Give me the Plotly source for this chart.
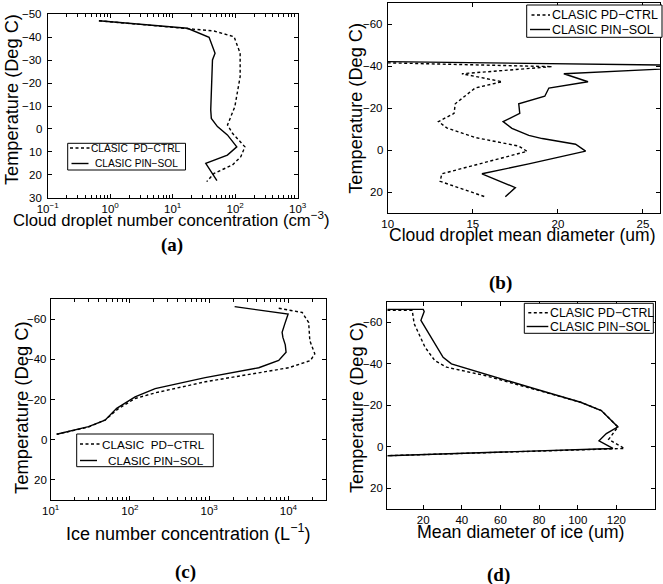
import plotly.graph_objects as go

W, H = 663, 584

# ---------------- data ----------------
# (a) cloud droplet number concentration (cm^-3) vs temperature (deg C)
a_ctrl_x = [0.66, 17.2, 46, 96, 120, 120, 98.6, 75.3, 90.5, 143, 123, 90.5, 46, 35]
a_ctrl_t = [-47.2, -43.9, -42.7, -40.2, -33, -22.8, -9.7, -1.7, 1.9, 7.8, 12.1, 15.7, 19.4, 23]
a_sol_x = [0.66, 17.2, 38.2, 47.6, 43.3, 40.6, 41.5, 52, 75, 106, 75, 33.8, 51]
a_sol_t = [-47.2, -43.9, -40.0, -33.0, -30.1, -8.3, -4.6, -1.0, 2.6, 7.8, 11.4, 15.0, 22.6]

# (b) cloud droplet mean diameter (um)
b_ctrl_x = [10, 19.66, 14.36, 16.72, 15.14, 13.97, 13.9, 12.98, 13.47, 15.14, 17.7, 18.19, 13.18, 13.08, 15.73]
b_ctrl_t = [-41.6, -39.8, -36.4, -32.6, -29.6, -22.1, -17.5, -13.6, -10.6, -6.0, -1.9, 0.6, 11.3, 14.9, 22.3]
b_sol_x = [10, 30, 20.35, 21.77, 19.47, 19.23, 17.7, 17.76, 16.78, 17.3, 18.29, 19.08, 21.04, 21.63, 18.29, 15.54, 17.5, 16.91]
b_sol_t = [-42.2, -40.15, -36.4, -32.6, -29.6, -25.7, -22.1, -17.5, -13.6, -10.4, -7.0, -5.5, -2.8, 0.5, 6.6, 11.3, 17.9, 22.3]

# (c) ice number concentration (L^-1)
c_ctrl_x = [7540, 14900, 18000, 18600, 21500, 18970, 10090, 891, 208, 116, 70, 49, 30, 11.9]
c_ctrl_t = [-65.4, -63.3, -58.3, -49.3, -42.7, -39.4, -35.8, -28.8, -23.3, -20.5, -15.2, -9.9, -6.3, -2.7]
c_sol_x = [2094, 9900, 8970, 8320, 8510, 9120, 9330, 7530, 4220, 890, 208, 116, 68, 48.5, 30, 11.9]
c_sol_t = [-66.2, -62.5, -57.5, -53.4, -50.9, -47.2, -43.5, -39.4, -35.8, -30.9, -25.4, -21.3, -15.6, -9.7, -6.5, -2.7]

# (d) mean diameter of ice (um)
d_ctrl_x = [1.4, 14.3, 15.3, 20.9, 26, 32.1, 51.9, 74.3, 101.5, 112.2, 120.8, 116, 124.2, 1.4]
d_ctrl_t = [-65.8, -65.8, -59.4, -48.1, -41.6, -38.4, -34.4, -28.7, -21.5, -17.5, -9.6, -3.6, 0.8, 4.3]
d_sol_x = [1.4, 20, 20.5, 18.8, 30.3, 34.6, 77.7, 101.5, 112.2, 120.8, 114.8, 111, 118.2, 1.4]
d_sol_t = [-66.3, -66.3, -65.3, -61, -43.2, -40, -28, -21.5, -17.5, -9.6, -6.4, -2.9, 0.8, 4.3]

# tick values / labels
a_yticks = [-50, -40, -30, -20, -10, 0, 10, 20, 30]
bcd_yticks = [-60, -40, -20, 0, 20]
a_xticks = [0.1, 1, 10, 100, 1000]
a_xlabels = ["10<sup>\u22121</sup>", "10<sup>0</sup>", "10<sup>1</sup>", "10<sup>2</sup>", "10<sup>3</sup>"]
c_xticks = [10, 100, 1000, 10000]
c_xlabels = ["10<sup>1</sup>", "10<sup>2</sup>", "10<sup>3</sup>", "10<sup>4</sup>"]
b_xticks = [10, 15, 20, 25]
d_xticks = [20, 40, 60, 80, 100, 120, 140]
a_minor = [m * 10.0 ** e for e in range(-1, 3) for m in range(2, 10)]
c_minor = [m * 10.0 ** e for e in range(1, 5) for m in range(2, 10)]

name_ctrl_ac = "CLASIC\u00a0\u00a0PD\u2212CTRL"
name_ctrl_bd = "CLASIC PD\u2212CTRL"
name_sol = "CLASIC PIN\u2212SOL"


def lab(v):
    return str(v).replace("-", "\u2212")


FONT = "Liberation Sans, Arial, Helvetica, sans-serif"
SERIF = "Liberation Serif, Times New Roman, serif"
TICKSIZE = 11.5

fig = go.Figure()

panels = [
    ("x", "y", a_ctrl_x, a_ctrl_t, a_sol_x, a_sol_t, name_ctrl_ac),
    ("x2", "y2", b_ctrl_x, b_ctrl_t, b_sol_x, b_sol_t, name_ctrl_bd),
    ("x3", "y3", c_ctrl_x, c_ctrl_t, c_sol_x, c_sol_t, name_ctrl_ac),
    ("x4", "y4", d_ctrl_x, d_ctrl_t, d_sol_x, d_sol_t, name_ctrl_bd),
]
DASH = "3px,2.5px"
for xa, ya, cx, ct, sx, st, nc in panels:
    fig.add_trace(go.Scatter(x=cx, y=ct, mode="lines", name=nc, xaxis=xa, yaxis=ya,
                             showlegend=False, line=dict(color="black", width=1.4, dash=DASH)))
    fig.add_trace(go.Scatter(x=sx, y=st, mode="lines", name=name_sol, xaxis=xa, yaxis=ya,
                             showlegend=False, line=dict(color="black", width=1.4)))


def px_dom_x(l, r):
    return [l / W, r / W]


def px_dom_y(top, bot):
    return [1 - bot / H, 1 - top / H]


common = dict(showline=True, linecolor="black", linewidth=1.3, mirror="ticks",
              ticks="inside", ticklen=4, tickcolor="black", tickwidth=1, automargin=False,
              showgrid=False, zeroline=False,
              tickfont=dict(family=FONT, size=TICKSIZE, color="black"))


def logminor(vals):
    return dict(ticks="inside", ticklen=3, tickcolor="black", tickwidth=1, showgrid=False, tickvals=vals)


# frame left edges (px) of the four panels and where their y tick labels end
LEFTS = {"y": 47.7, "y2": 387.7, "y3": 50.7, "y4": 387.3}
LABEL_RIGHT = {"y": 43.5, "y2": 385.0, "y3": 49.0, "y4": 385.0}

fig.update_layout(
    template="none",
    width=W, height=H, margin=dict(l=0, r=0, t=0, b=0, pad=0, autoexpand=False),
    paper_bgcolor="white", plot_bgcolor="white",
    font=dict(family=FONT, color="black"), showlegend=False,
    xaxis=dict(domain=px_dom_x(LEFTS["y"], 297.7), anchor="y", type="log", range=[-1, 3],
               tickvals=a_xticks, ticktext=a_xlabels, minor=logminor(a_minor), **common),
    yaxis=dict(domain=px_dom_y(14.3, 197.7), anchor="x", range=[30, -50],
               tickvals=a_yticks, showticklabels=False, **common),
    xaxis2=dict(domain=px_dom_x(LEFTS["y2"], 660), anchor="y2", range=[10, 26],
                tickvals=b_xticks, ticktext=[lab(v) for v in b_xticks], **common),
    yaxis2=dict(domain=px_dom_y(3.3, 213), anchor="x2", range=[30, -70],
                tickvals=bcd_yticks, showticklabels=False, **common),
    xaxis3=dict(domain=px_dom_x(LEFTS["y3"], 325.7), anchor="y3", type="log", range=[1, 4.47],
                tickvals=c_xticks, ticktext=c_xlabels, minor=logminor(c_minor), **common),
    yaxis3=dict(domain=px_dom_y(299, 500), anchor="x3", range=[30, -70],
                tickvals=bcd_yticks, showticklabels=False, **common),
    xaxis4=dict(domain=px_dom_x(LEFTS["y4"], 655), anchor="y4", range=[1.4, 140],
                tickvals=d_xticks, ticktext=[lab(v) for v in d_xticks], **common),
    yaxis4=dict(domain=px_dom_y(301.7, 509), anchor="x4", range=[30, -70],
                tickvals=bcd_yticks, showticklabels=False, **common),
)


def ann(text, xpx, ypx, size, angle=0, family=FONT, xanchor="center"):
    fig.add_annotation(text=text, x=xpx / W, y=1 - ypx / H, xref="paper", yref="paper",
                       showarrow=False, textangle=angle, xanchor=xanchor, yanchor="middle",
                       font=dict(family=family, size=size, color="black"))


def shape_line(x0, y0, x1, y1, dash="solid"):
    fig.add_shape(type="line", xref="paper", yref="paper",
                  x0=x0 / W, x1=x1 / W, y0=1 - y0 / H, y1=1 - y1 / H,
                  line=dict(color="black", width=1.4, dash=dash))


def legend_box(box, rows, size):
    l, t, r, b = box
    fig.add_shape(type="rect", xref="paper", yref="paper", x0=l / W, x1=r / W,
                  y0=1 - b / H, y1=1 - t / H, line=dict(color="black", width=1),
                  fillcolor="white", layer="above")
    for sx0, sx1, tx, y, text, dash in rows:
        shape_line(sx0, y, sx1, y, dash)
        ann(text, tx, y, size, xanchor="left")


legend_box((67.7, 143.3, 185.5, 170),
           [(70, 89.5, 89, 148, name_ctrl_ac, DASH), (71.5, 88.5, 92.5, 163.5, name_sol, "solid")], 10.2)
legend_box((526.7, 5, 662, 37.3),
           [(531.5, 550, 550, 15, name_ctrl_bd, DASH), (530, 550, 550, 29.5, name_sol, "solid")], 12.5)
legend_box((76.7, 434, 213.3, 466.7),
           [(80, 100, 99.5, 444, name_ctrl_ac, DASH), (80, 97, 106, 460.5, name_sol, "solid")], 11.7)
legend_box((524.3, 303.3, 653.3, 333.3),
           [(528.3, 548.3, 548, 312.7, name_ctrl_bd, DASH), (526.7, 548.3, 548, 326.5, name_sol, "solid")], 12.3)

# axis titles
ann("Cloud droplet number concentration (cm<sup>\u22123</sup>)", 171, 218.5, 16.7)
ann("Cloud droplet mean diameter (um)", 522.5, 235, 17.5)
ann("Ice number concentration (L<sup>\u22121</sup>)", 187.5, 532, 18)
ann("Mean diameter of ice (um)", 520.8, 531.5, 17.8)
ann("Temperature (Deg C)", 12, 100, 18.2, angle=-90)
ann("Temperature (Deg C)", 356.5, 108.3, 18.2, angle=-90)
ann("Temperature (Deg C)", 21.5, 407.5, 18.4, angle=-90)
ann("Temperature (Deg C)", 356.5, 407.5, 18.2, angle=-90)

# y tick labels, placed on each axis' own scale
for yref, ticks in (("y", a_yticks), ("y2", bcd_yticks), ("y3", bcd_yticks), ("y4", bcd_yticks)):
    for v in ticks:
        fig.add_annotation(text=lab(v), x=LABEL_RIGHT[yref] / W, xref="paper",
                           y=v, yref=yref, showarrow=False, xanchor="right", yanchor="middle",
                           font=dict(family=FONT, size=TICKSIZE, color="black"))

# panel labels
ann("<b>(a)</b>", 171.7, 245, 19, family=SERIF)
ann("<b>(b)</b>", 500, 283, 19, family=SERIF)
ann("<b>(c)</b>", 185, 572, 19, family=SERIF)
ann("<b>(d)</b>", 498, 575, 19, family=SERIF)

fig.write_html("out.html")
